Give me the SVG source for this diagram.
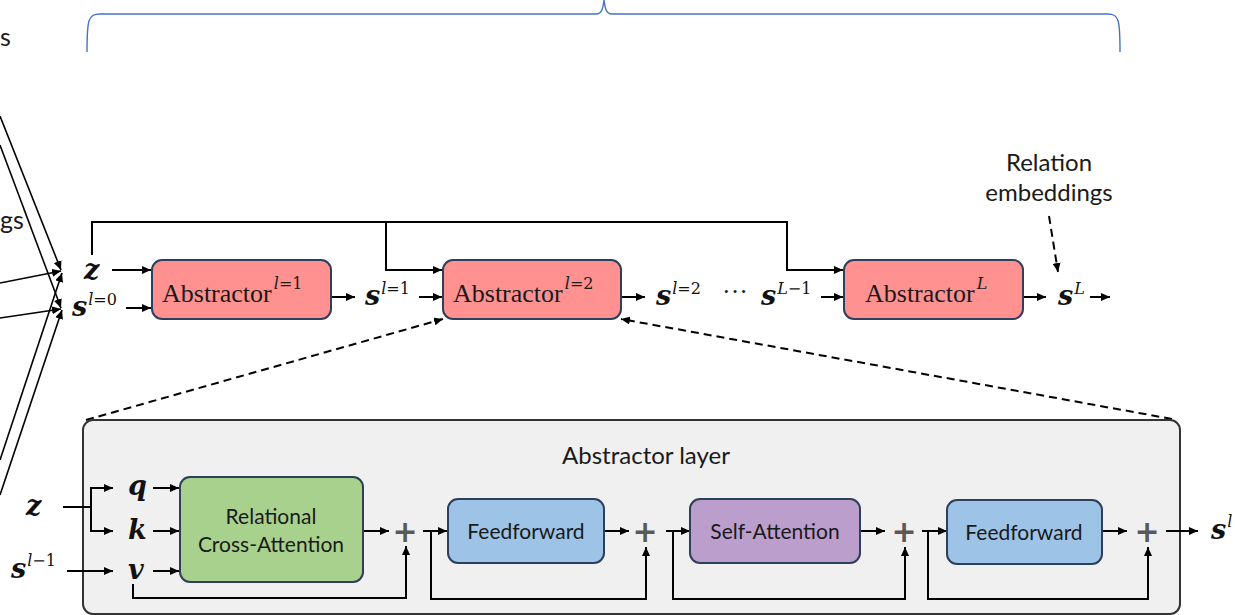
<svg xmlns="http://www.w3.org/2000/svg" width="1235" height="615" viewBox="0 0 1235 615">
<defs>
<marker id="ah" markerUnits="userSpaceOnUse" markerWidth="9" markerHeight="8" refX="9" refY="4" orient="auto"><path d="M0,0 L9,4 L0,8 z" fill="#000"/></marker>
<style>
.c{fill:none;stroke:#000;stroke-width:2}
.cd{fill:none;stroke:#000;stroke-width:2;stroke-dasharray:8,5}
.thin{fill:none;stroke:#000;stroke-width:1.6}
.box{stroke:#2E3F5C;stroke-width:2}
.red{fill:#FF9191}
.grn{fill:#A9D18E}
.blu{fill:#9DC3E6}
.pur{fill:#BC9ECC}
.sans{font-family:Lato,"Open Sans","Liberation Sans",sans-serif;fill:#1a1a1a}
.ser{font-family:"Liberation Serif","DejaVu Serif",serif;font-size:26px;fill:#1a1a1a}
.m{font-family:"DejaVu Serif","Liberation Serif",serif;font-weight:bold;font-style:italic;font-size:27px;fill:#111}
.sup{font-family:"DejaVu Serif","Liberation Serif",serif;font-weight:normal;font-style:normal;font-size:16px}
.plus{font-family:"DejaVu Sans",Lato,sans-serif;font-weight:bold;font-size:30px;fill:#595959;text-anchor:middle}
</style>
</defs>

<!-- brace -->
<path d="M87,52 C87,20 88,14 100,14 L596,14 C602,14 603,8 604,0 C605,8 606,14 612,14 L1108,14 C1119,14 1120,20 1120,52" fill="none" stroke="#4472C4" stroke-width="1.4"/>

<!-- cut-off labels on the left -->
<text class="sans" x="0" y="46" font-size="25">s</text>
<text class="sans" x="0" y="229" font-size="25">gs</text>

<g id="connectors">
<path class="thin" d="M0,116 L61,270" marker-end="url(#ah)"/>
<path class="thin" d="M0,145 L61,308" marker-end="url(#ah)"/>
<path class="thin" d="M0,283 L61,271" marker-end="url(#ah)"/>
<path class="thin" d="M0,318 L61,309" marker-end="url(#ah)"/>
<path class="thin" d="M0,460 L62,273" marker-end="url(#ah)"/>
<path class="thin" d="M0,495 L62,310" marker-end="url(#ah)"/>

<path class="c" d="M112,270 H151" marker-end="url(#ah)"/>
<path class="c" d="M126,308 H151" marker-end="url(#ah)"/>
<path class="c" d="M332,297 H355" marker-end="url(#ah)"/>
<path class="c" d="M419,297 H442" marker-end="url(#ah)"/>
<path class="c" d="M622,297 H645" marker-end="url(#ah)"/>
<path class="c" d="M821,297 H843" marker-end="url(#ah)"/>
<path class="c" d="M1024,297 H1046" marker-end="url(#ah)"/>
<path class="c" d="M1090,297 H1110" marker-end="url(#ah)"/>
<path class="c" d="M92,255 V222 H787 V270 H843" marker-end="url(#ah)"/>
<path class="c" d="M386,222 V270 H442" marker-end="url(#ah)"/>

<path class="cd" d="M1049,216 L1058,272" marker-end="url(#ah)"/>
<path class="cd" d="M86,420 L443,319" marker-end="url(#ah)"/>
<path class="cd" d="M1172,419 L621,319" marker-end="url(#ah)"/>
</g>

<g id="abstractor1">
<rect class="box red" x="152" y="260" width="179" height="59" rx="10"/>
<text class="ser" x="162" y="302">Abstractor<tspan class="sup" dx="2" dy="-13"><tspan font-style="italic">l</tspan>=1</tspan></text>
</g>
<g id="abstractor2">
<rect class="box red" x="443" y="260" width="178" height="59" rx="10"/>
<text class="ser" x="453" y="302">Abstractor<tspan class="sup" dx="2" dy="-13"><tspan font-style="italic">l</tspan>=2</tspan></text>
</g>
<g id="abstractorL">
<rect class="box red" x="844" y="260" width="179" height="59" rx="10"/>
<text class="ser" x="865" y="302">Abstractor<tspan class="sup" dx="2" dy="-13"><tspan font-style="italic">L</tspan></tspan></text>
</g>

<g id="top-symbols">
<text class="m" x="84" y="279">z</text>
<text class="m" x="72" y="316">s<tspan class="sup" dx="1" dy="-11"><tspan font-style="italic">l</tspan>=0</tspan></text>
<text class="m" x="365" y="305">s<tspan class="sup" dx="1" dy="-11"><tspan font-style="italic">l</tspan>=1</tspan></text>
<text class="m" x="656" y="305">s<tspan class="sup" dx="1" dy="-11"><tspan font-style="italic">l</tspan>=2</tspan></text>
<text class="ser" x="722" y="300">···</text>
<text class="m" x="761" y="305">s<tspan class="sup" dx="1" dy="-11"><tspan font-style="italic">L</tspan>−1</tspan></text>
<text class="m" x="1058" y="305">s<tspan class="sup" dx="1" dy="-11"><tspan font-style="italic">L</tspan></tspan></text>
</g>

<g id="relation-embeddings">
<text class="sans" x="1049" y="171" font-size="24" text-anchor="middle">Relation</text>
<text class="sans" x="1049" y="201" font-size="24" text-anchor="middle">embeddings</text>
</g>

<g id="abstractor-layer">
<rect x="83" y="420" width="1097" height="194" rx="10" fill="#F0F0F0" stroke="#333" stroke-width="2"/>
<text class="sans" x="646" y="464" font-size="24" text-anchor="middle">Abstractor layer</text>
</g>

<g id="layer-connectors">
<path class="c" d="M63,507 H91"/>
<path class="c" d="M91,507 V488 H113" marker-end="url(#ah)"/>
<path class="c" d="M91,507 V531 H113" marker-end="url(#ah)"/>
<path class="c" d="M67,571 H113" marker-end="url(#ah)"/>
<path class="c" d="M153,488 H179" marker-end="url(#ah)"/>
<path class="c" d="M153,531 H179" marker-end="url(#ah)"/>
<path class="c" d="M153,571 H179" marker-end="url(#ah)"/>
<path class="c" d="M133,584 V598 H406 V546" marker-end="url(#ah)"/>
<path class="c" d="M363,531 H389" marker-end="url(#ah)"/>
<path class="c" d="M423,531 H447" marker-end="url(#ah)"/>
<path class="c" d="M431,531 V599 H646 V547" marker-end="url(#ah)"/>
<path class="c" d="M604,531 H629" marker-end="url(#ah)"/>
<path class="c" d="M666,531 H690" marker-end="url(#ah)"/>
<path class="c" d="M673,531 V599 H905 V547" marker-end="url(#ah)"/>
<path class="c" d="M860,531 H885" marker-end="url(#ah)"/>
<path class="c" d="M922,531 H947" marker-end="url(#ah)"/>
<path class="c" d="M928,531 V599 H1148 V547" marker-end="url(#ah)"/>
<path class="c" d="M1102,531 H1127" marker-end="url(#ah)"/>
<path class="c" d="M1166,531 H1198" marker-end="url(#ah)"/>
</g>

<g id="layer-symbols">
<text class="m" x="26" y="515">z</text>
<text class="m" x="128" y="495">q</text>
<text class="m" x="128" y="539">k</text>
<text class="m" x="128" y="579">v</text>
<text class="m" x="11" y="578">s<tspan class="sup" dx="1" dy="-12"><tspan font-style="italic">l</tspan>−1</tspan></text>
<text class="m" x="1211" y="539">s<tspan class="sup" dx="1" dy="-12"><tspan font-style="italic">l</tspan></tspan></text>
</g>

<g id="relational-cross-attention">
<rect class="box grn" x="180" y="477" width="183" height="105" rx="10"/>
<text class="sans" x="271" y="524" font-size="21" text-anchor="middle">Relational</text>
<text class="sans" x="271" y="552" font-size="21" text-anchor="middle">Cross-Attention</text>
</g>
<g id="feedforward1">
<rect class="box blu" x="448" y="499" width="156" height="64" rx="10"/>
<text class="sans" x="526" y="539" font-size="21" text-anchor="middle">Feedforward</text>
</g>
<g id="self-attention">
<rect class="box pur" x="690" y="499" width="170" height="64" rx="10"/>
<text class="sans" x="775" y="539" font-size="21" text-anchor="middle">Self-Attention</text>
</g>
<g id="feedforward2">
<rect class="box blu" x="947" y="500" width="155" height="64" rx="10"/>
<text class="sans" x="1024" y="540" font-size="21" text-anchor="middle">Feedforward</text>
</g>

<g id="plus-nodes">
<text class="plus" x="405" y="542">+</text>
<text class="plus" x="645" y="542">+</text>
<text class="plus" x="904" y="542">+</text>
<text class="plus" x="1147" y="542">+</text>
</g>
</svg>
